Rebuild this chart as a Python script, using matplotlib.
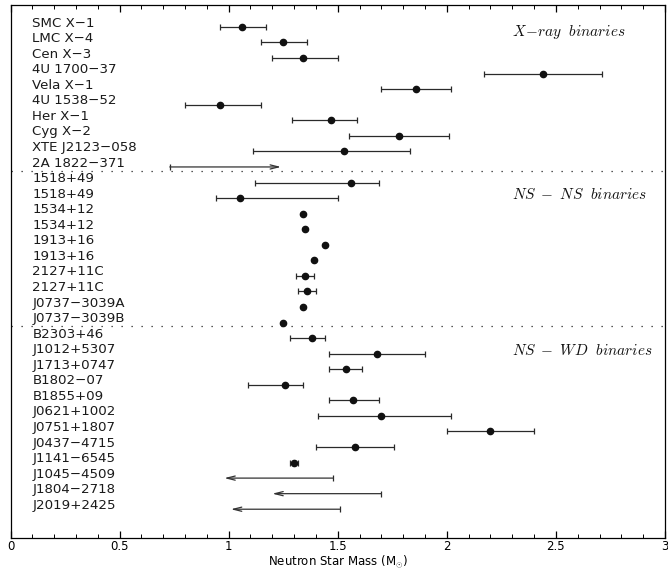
import numpy as np
import matplotlib.pyplot as plt
from matplotlib.ticker import MultipleLocator

names = ['SMC X-1', 'LMC X-4', 'Cen X-3', '4U 1700-37', 'Vela X-1', '4U 1538-52',
         'Her X-1', 'Cyg X-2', 'XTE J2123-058', '2A 1822-371',
         '1518+49', '1518+49', '1534+12', '1534+12', '1913+16', '1913+16',
         '2127+11C', '2127+11C', 'J0737-3039A', 'J0737-3039B',
         'B2303+46', 'J1012+5307', 'J1713+0747', 'B1802-07', 'B1855+09',
         'J0621+1002', 'J0751+1807', 'J0437-4715', 'J1141-6545',
         'J1045-4509', 'J1804-2718', 'J2019+2425']
names = [n.replace('-', '\u2212') for n in names]

# measured masses (nan = limit only)
mass = [1.06, 1.25, 1.34, 2.44, 1.86, 0.96, 1.47, 1.78, 1.53, np.nan,
        1.56, 1.05, 1.34, 1.35, 1.44, 1.39, 1.35, 1.36, 1.34, 1.25,
        1.38, 1.68, 1.54, 1.26, 1.57, 1.70, 2.20, 1.58, 1.30,
        np.nan, np.nan, np.nan]
err_lo = [0.10, 0.10, 0.14, 0.27, 0.16, 0.16, 0.18, 0.23, 0.42, 0,
          0.44, 0.11, 0, 0, 0, 0, 0.04, 0.04, 0, 0,
          0.10, 0.22, 0.08, 0.17, 0.11, 0.29, 0.20, 0.18, 0.02,
          0, 0, 0]
err_hi = [0.11, 0.11, 0.16, 0.27, 0.16, 0.19, 0.12, 0.23, 0.30, 0,
          0.13, 0.45, 0, 0, 0, 0, 0.04, 0.04, 0, 0,
          0.06, 0.22, 0.07, 0.08, 0.12, 0.32, 0.20, 0.18, 0.02,
          0, 0, 0]

# limits: (row, bound with cap, arrow tip)
lim_rows = [9, 29, 30, 31]
lim_cap = [0.73, 1.48, 1.70, 1.51]
lim_tip = [1.24, 0.98, 1.20, 1.01]

groups = [r'$X\!-\!ray\ \ binaries$', r'$NS\ -\ NS\ \ binaries$', r'$NS\ -\ WD\ \ binaries$']
group_rows = [0.33, 10.75, 20.8]
separators = [9.26, 19.23]

plt.rcParams['mathtext.fontset'] = 'cm'
fig = plt.figure(figsize=(6.68, 5.71), dpi=100)
ax = fig.add_axes([10.5 / 668, 33 / 571, 654.5 / 668, 533 / 571])

rows = np.arange(len(names))
col = '#2a2a2a'
ax.errorbar(mass, rows, xerr=[err_lo, err_hi], fmt='o', ms=4.5, color='#111111',
            ecolor=col, elinewidth=0.9, capsize=2.5, capthick=0.9)

for r, c, t in zip(lim_rows, lim_cap, lim_tip):
    ax.annotate('', xy=(t, r), xytext=(c, r),
                arrowprops=dict(arrowstyle='->,head_length=0.6,head_width=0.15',
                                color='#333333', lw=0.9, shrinkA=0, shrinkB=0))
    ax.plot([c], [r], marker='|', ms=5, color=col, mew=0.9)

for i, n in enumerate(names):
    ax.text(0.1, i - 0.25, n, fontsize=9.6, va='center', ha='left', color='#1a1a1a')

for g, r in zip(groups, group_rows):
    ax.text(2.30, r, g, fontsize=11, va='center', ha='left', color='#111111')

for s in separators:
    ax.axhline(s, color='#222222', lw=0.9, linestyle=(0, (1, 7)))

ax.set_xlim(0, 3)
ax.set_ylim(32.85, -1.41)
ax.set_yticks([])
ax.xaxis.set_minor_locator(MultipleLocator(0.1))
ax.set_xticks([0, 0.5, 1, 1.5, 2, 2.5, 3])
ax.set_xticklabels(['0', '0.5', '1', '1.5', '2', '2.5', '3'])
ax.tick_params(axis='x', which='both', direction='in', top=True, labelsize=8.5)
ax.tick_params(axis='x', which='major', length=5, width=0.9, pad=1.5)
ax.tick_params(axis='x', which='minor', length=3, width=0.7)
for sp in ax.spines.values():
    sp.set_linewidth(0.9)

fig.text(ax.get_position().x0 + ax.get_position().width / 2, 1.5 / 571,
         r'Neutron Star Mass (M$_{\odot}$)', fontsize=8.5, ha='center', va='bottom')

fig.savefig('out.png', dpi=100)
